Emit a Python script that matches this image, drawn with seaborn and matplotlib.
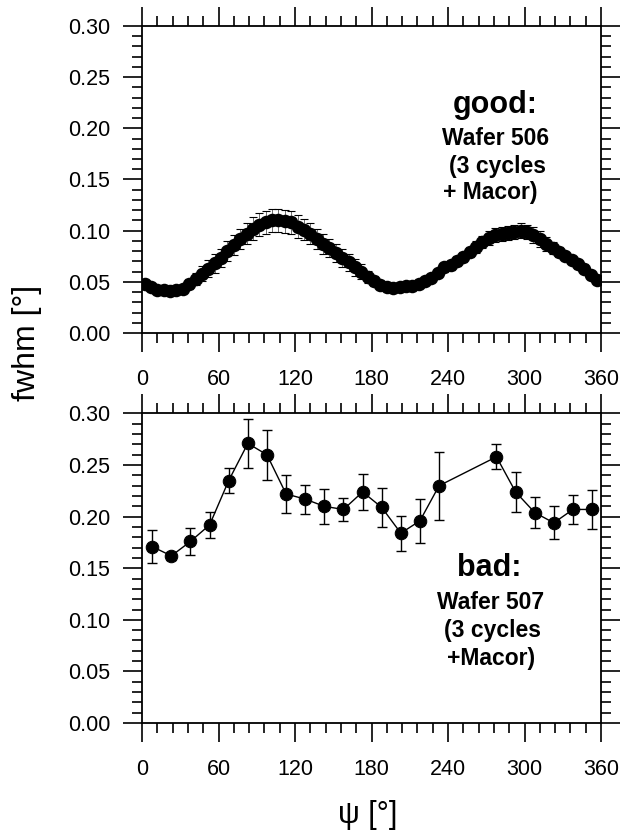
import numpy as np
import pandas as pd
import seaborn as sns
import matplotlib.pyplot as plt
from matplotlib.ticker import MultipleLocator, FormatStrFormatter

# good wafer (506): dense scan
psi_good = [2, 7, 12, 17, 22, 27, 32, 37, 42, 47, 52, 57, 62, 67, 72, 77, 82, 87,
            92, 97, 102, 107, 112, 117, 122, 127, 132, 137, 142, 147, 152, 157, 162, 167,
            172, 177, 182, 187, 192, 197, 202, 207, 212, 217, 222, 227, 232, 237, 242,
            247, 252, 257, 262, 267, 272, 277, 282, 287, 292, 297, 302, 307, 312, 317,
            322, 327, 332, 337, 342, 347, 352, 357]
fwhm_good = [0.048, 0.045, 0.042, 0.042, 0.041, 0.042, 0.043, 0.048, 0.053, 0.058,
             0.063, 0.068, 0.073, 0.080, 0.086, 0.092, 0.097, 0.102, 0.106, 0.108,
             0.110, 0.110, 0.109, 0.108, 0.104, 0.101, 0.097, 0.092, 0.087, 0.083,
             0.078, 0.073, 0.069, 0.064, 0.060, 0.055, 0.051, 0.047, 0.045, 0.044,
             0.045, 0.046, 0.046, 0.048, 0.051, 0.054, 0.059, 0.064, 0.066, 0.070,
             0.074, 0.079, 0.084, 0.089, 0.093, 0.096, 0.097, 0.098, 0.099, 0.100,
             0.099, 0.096, 0.092, 0.087, 0.083, 0.079, 0.075, 0.071, 0.067, 0.063,
             0.057, 0.052]
err_good = [0.004, 0.004, 0.004, 0.004, 0.004, 0.004, 0.004, 0.005, 0.006, 0.007,
            0.008, 0.009, 0.009, 0.010, 0.010, 0.010, 0.010, 0.011, 0.011, 0.011,
            0.011, 0.011, 0.011, 0.011, 0.011, 0.010, 0.010, 0.010, 0.010, 0.009,
            0.009, 0.009, 0.008, 0.008, 0.007, 0.006, 0.005, 0.004, 0.004, 0.004,
            0.004, 0.004, 0.004, 0.004, 0.004, 0.004, 0.004, 0.004, 0.004, 0.005,
            0.005, 0.005, 0.006, 0.006, 0.007, 0.007, 0.007, 0.007, 0.007, 0.007,
            0.007, 0.008, 0.008, 0.007, 0.006, 0.005, 0.004, 0.004, 0.004, 0.004,
            0.004, 0.004]

# bad wafer (507)
psi_bad = [8, 23, 38, 53, 68, 83, 98, 113, 128, 143, 158, 173, 188, 203, 218, 233,
           278, 293, 308, 323, 338, 353]
fwhm_bad = [0.171, 0.162, 0.176, 0.192, 0.235, 0.271, 0.260, 0.222, 0.217, 0.210,
            0.207, 0.224, 0.209, 0.184, 0.196, 0.230, 0.258, 0.224, 0.204, 0.194,
            0.207, 0.207]
err_bad = [0.016, 0.004, 0.013, 0.013, 0.0125, 0.024, 0.024, 0.018, 0.014, 0.017,
           0.011, 0.0175, 0.019, 0.017, 0.0215, 0.033, 0.012, 0.019, 0.015, 0.016,
           0.014, 0.019]

good_df = pd.DataFrame({'psi': psi_good, 'fwhm': fwhm_good, 'err': err_good})
bad_df = pd.DataFrame({'psi': psi_bad, 'fwhm': fwhm_bad, 'err': err_bad})

sns.set_theme(style='white')
plt.rcParams['font.family'] = ['Liberation Sans', 'DejaVu Sans']
plt.rcParams['text.color'] = 'black'
plt.rcParams['xtick.color'] = 'black'
plt.rcParams['ytick.color'] = 'black'
plt.rcParams['axes.labelcolor'] = 'black'

fig = plt.figure(figsize=(6.21, 8.35), dpi=100)
ax1 = fig.add_axes([0.2287, 0.6012, 0.7391, 0.3677])
ax2 = fig.add_axes([0.2287, 0.1341, 0.7391, 0.3707])

# top panel
ax1.errorbar(good_df['psi'], good_df['fwhm'], yerr=good_df['err'], fmt='none',
             ecolor='black', elinewidth=0.4, capsize=3, capthick=0.8)
sns.scatterplot(data=good_df, x='psi', y='fwhm', ax=ax1, color='black', s=95,
                edgecolor='black', linewidth=0, zorder=3)

# bottom panel
ax2.errorbar(bad_df['psi'], bad_df['fwhm'], yerr=bad_df['err'], fmt='none',
             ecolor='black', elinewidth=1.0, capsize=3.5, capthick=1.0)
sns.lineplot(data=bad_df, x='psi', y='fwhm', ax=ax2, color='black', linewidth=1.0,
             marker='o', markersize=9, markeredgecolor='black', zorder=3)

for ax in (ax1, ax2):
    ax.set_xlim(0, 360)
    ax.set_ylim(0, 0.30)
    ax.xaxis.set_major_locator(MultipleLocator(60))
    ax.xaxis.set_minor_locator(MultipleLocator(12))
    ax.yaxis.set_major_locator(MultipleLocator(0.05))
    ax.yaxis.set_minor_locator(MultipleLocator(0.01))
    ax.yaxis.set_major_formatter(FormatStrFormatter('%.2f'))
    ax.tick_params(which='both', direction='out', top=True, right=True,
                   bottom=True, left=True, color='black', width=1.2)
    ax.tick_params(which='major', length=14)
    ax.tick_params(which='minor', length=7)
    ax.tick_params(axis='x', which='major', labelsize=15.5, pad=12)
    ax.tick_params(axis='y', which='major', labelsize=15.5, pad=9)
    for sp in ax.spines.values():
        sp.set_color('black')
        sp.set_linewidth(1.3)
    ax.set_xlabel('')
    ax.set_ylabel('')

ax1.text(277, 0.223, 'good:', fontsize=22, fontweight='bold', ha='center', va='center')
ax1.text(277, 0.190, 'Wafer 506', fontsize=16.5, fontweight='bold', ha='center', va='center')
ax1.text(279, 0.163, '(3 cycles', fontsize=16.5, fontweight='bold', ha='center', va='center')
ax1.text(273, 0.137, '+ Macor)', fontsize=16.5, fontweight='bold', ha='center', va='center')

ax2.text(272, 0.150, 'bad:', fontsize=22, fontweight='bold', ha='center', va='center')
ax2.text(273, 0.117, 'Wafer 507', fontsize=16.5, fontweight='bold', ha='center', va='center')
ax2.text(275, 0.090, '(3 cycles', fontsize=16.5, fontweight='bold', ha='center', va='center')
ax2.text(274, 0.063, '+Macor)', fontsize=16.5, fontweight='bold', ha='center', va='center')

fig.text(27 / 621, 1 - 343 / 835, 'fwhm [°]', fontsize=23, rotation=90,
         ha='center', va='center')
fig.text(368 / 621, 1 - 815 / 835, 'ψ [°]', fontsize=22, ha='center', va='center')

fig.savefig('out.png', dpi=100)
